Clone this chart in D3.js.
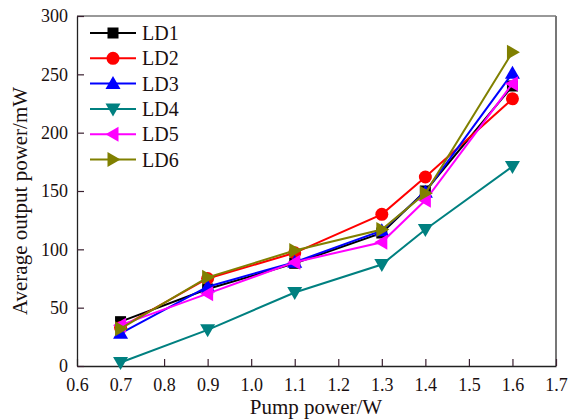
<!DOCTYPE html>
<html><head><meta charset="utf-8">
<script src="https://cdn.jsdelivr.net/npm/d3@7"></script>
<style>body{margin:0;background:#fff}svg{display:block}text{font-family:"Liberation Serif","Times New Roman",serif !important}</style>
</head><body>
<svg id="c" width="571" height="420"></svg>
<script>
const xValues = [0.7, 0.9, 1.1, 1.3, 1.4, 1.6];
const seriesNames = ["LD1","LD2","LD3","LD4","LD5","LD6"];
const LD1 = [38, 66, 88, 114, 150, 240];
const LD2 = [33, 75, 97, 130, 162, 229];
const LD3 = [28, 68, 89, 116, 149, 251];
const LD4 = [3, 31, 63, 87, 117, 171];
const LD5 = [35, 62, 89, 106, 142, 242];
const LD6 = [32, 76, 99, 117, 148, 269];
const xTicks = [0.6,0.7,0.8,0.9,1.0,1.1,1.2,1.3,1.4,1.5,1.6,1.7];
const yTicks = [0,50,100,150,200,250,300];
const colors = ["#000000","#ff0000","#0000ff","#008080","#ff00ff","#808000"];
const shapes = ["square","circle","up","down","left","right"];
const seriesData = [LD1,LD2,LD3,LD4,LD5,LD6];

const svg = d3.select("#c");
const L=77,R=556,T=16,B=366;
const x = d3.scaleLinear().domain([0.6,1.7]).range([L,R]);
const y = d3.scaleLinear().domain([0,300]).range([B,T]);
const font = "Liberation Serif";

svg.append("line").attr("x1",L).attr("x2",R).attr("y1",T).attr("y2",T).attr("stroke","#333").attr("stroke-width",1);
svg.append("line").attr("x1",R).attr("x2",R).attr("y1",T).attr("y2",B).attr("stroke","#777").attr("stroke-width",2);

const xa = svg.append("g").attr("transform",`translate(0,${B})`)
  .call(d3.axisBottom(x).tickValues(xTicks).tickFormat(d3.format(".1f")).tickSizeInner(-7).tickSizeOuter(0).tickPadding(12));
const ya = svg.append("g").attr("transform",`translate(${L},0)`)
  .call(d3.axisLeft(y).tickValues(yTicks).tickSizeInner(-7).tickSizeOuter(0).tickPadding(9));
[xa,ya].forEach(a=>{
  a.attr("font-family",font);
  a.select(".domain").attr("stroke","#222").attr("stroke-width",1.3);
  a.selectAll(".tick line").attr("stroke","#3a2030").attr("stroke-width",1.2);
  a.selectAll(".tick text").attr("font-size",18).attr("fill","#1a1010");
});

svg.append("text").attr("x",316).attr("y",414).attr("text-anchor","middle")
  .attr("font-family",font).attr("font-size",21).attr("fill","#1a1010").text("Pump power/W");
svg.append("text").attr("transform","translate(27,201) rotate(-90)").attr("text-anchor","middle")
  .attr("font-family",font).attr("font-size",21).attr("fill","#1a1010").text("Average output power/mW");

function marker(g, shape, cx, cy, color){
  const s=6.5;
  if(shape==="square") g.append("rect").attr("x",cx-5.5).attr("y",cy-5.5).attr("width",11).attr("height",11).attr("fill",color);
  else if(shape==="circle") g.append("circle").attr("cx",cx).attr("cy",cy).attr("r",6.5).attr("fill",color);
  else {
    let p;
    if(shape==="up") p=[[cx,cy-s-1],[cx-s-1,cy+s-1],[cx+s+1,cy+s-1]];
    if(shape==="down") p=[[cx,cy+s+1],[cx-s-1,cy-s+1],[cx+s+1,cy-s+1]];
    if(shape==="left") p=[[cx-s-1,cy],[cx+s-1,cy-s-1],[cx+s-1,cy+s+1]];
    if(shape==="right") p=[[cx+s+1,cy],[cx-s+1,cy-s-1],[cx-s+1,cy+s+1]];
    g.append("polygon").attr("points",p.map(q=>q.join(",")).join(" ")).attr("fill",color);
  }
}

const line = d3.line().x((d,i)=>x(xValues[i])).y(d=>y(d));
seriesData.forEach((vals,k)=>{
  const g = svg.append("g");
  g.append("path").attr("d",line(vals)).attr("fill","none").attr("stroke",colors[k]).attr("stroke-width",2);
  vals.forEach((v,i)=>marker(g,shapes[k],x(xValues[i]),y(v),colors[k]));
});

const lg = svg.append("g");
seriesNames.forEach((n,k)=>{
  const yy = 33 + k*25.3;
  lg.append("line").attr("x1",90).attr("x2",136).attr("y1",yy).attr("y2",yy).attr("stroke",colors[k]).attr("stroke-width",2);
  marker(lg,shapes[k],113,yy,colors[k]);
  lg.append("text").attr("x",142).attr("y",yy+7).attr("font-family",font).attr("font-size",20).attr("fill","#1a1010").text(n);
});
</script>
</body></html>
